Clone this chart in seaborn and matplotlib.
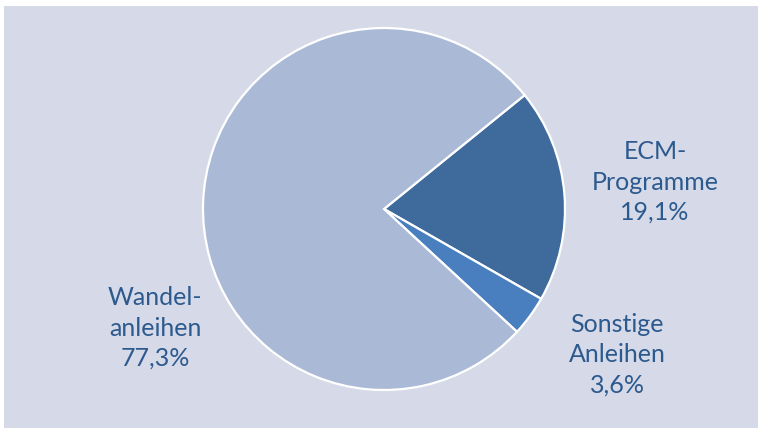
import matplotlib
matplotlib.use("Agg")
import matplotlib.pyplot as plt
import seaborn as sns
from matplotlib.patches import Rectangle

categories = ["ECM-\nProgramme", "Sonstige\nAnleihen", "Wandel-\nanleihen"]
shares = [19.1, 3.6, 77.3]
share_labels = ["19,1%", "3,6%", "77,3%"]
colors = ["#3f6a9c", "#4a7fbf", "#aabad6"]

sns.set_theme(style="white")
plt.rcParams["font.family"] = ["Lato", "DejaVu Sans"]

W, H = 764, 430
fig = plt.figure(figsize=(W / 100, H / 100), dpi=100)
fig.patch.set_facecolor("white")

ax = fig.add_axes([0, 0, 1, 1])
ax.patch.set_alpha(0)
cx, cy, r = 384, H - 209, 181
ax.pie(shares, colors=colors, startangle=39, counterclock=False, center=(cx, cy), radius=r,
       wedgeprops=dict(edgecolor="white", linewidth=1.6))
ax.add_patch(Rectangle((4, 2), 754, 422, facecolor="#d6dae8", edgecolor="none", zorder=-5))
ax.set_xlim(0, W)
ax.set_ylim(0, H)
ax.set_aspect("auto")
ax.axis("off")

label_pos = [(655, 182), (617, 355), (155, 328)]
txt_color = "#2c5a8e"
for cat, lab, (x, y) in zip(categories, share_labels, label_pos):
    ax.text(x, H - y, cat + "\n" + lab, ha="center", va="center", fontsize=18,
            color=txt_color, linespacing=1.38)

fig.savefig("out.png", dpi=100, facecolor="white")
